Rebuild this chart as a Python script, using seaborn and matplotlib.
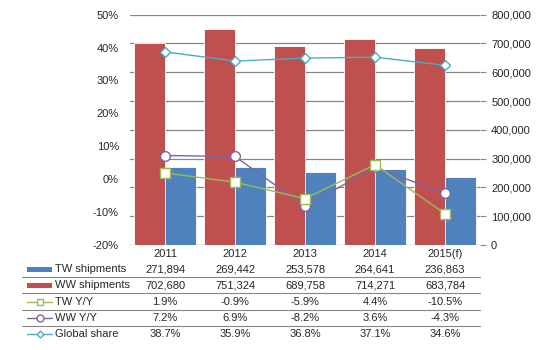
import numpy as np
import pandas as pd
import matplotlib
matplotlib.use('Agg')
import matplotlib.pyplot as plt
import matplotlib.transforms as mtrans
from matplotlib.lines import Line2D
from matplotlib.patches import Rectangle
import seaborn as sns

years = ['2011', '2012', '2013', '2014', '2015(f)']
tw_ship = [271894, 269442, 253578, 264641, 236863]
ww_ship = [702680, 751324, 689758, 714271, 683784]
tw_yoy = [1.9, -0.9, -5.9, 4.4, -10.5]
ww_yoy = [7.2, 6.9, -8.2, 3.6, -4.3]
share = [38.7, 35.9, 36.8, 37.1, 34.6]

RED = '#C0504D'
BLUE = '#4F81BD'
GREEN = '#9BBB59'
PURPLE = '#8064A2'
CYAN = '#4BACC6'
FS = 8

sns.set_style('white')
plt.rcParams['font.family'] = ['Liberation Sans', 'DejaVu Sans']
plt.rcParams['font.size'] = FS

df = pd.DataFrame({'year': years * 2,
                   'value': ww_ship + tw_ship,
                   'series': ['WW shipments'] * 5 + ['TW shipments'] * 5})

fig = plt.figure(figsize=(5.39, 3.5), dpi=100)
W, H = 539, 350
ax = fig.add_axes([130 / W, 1 - 245 / H, 350 / W, 230.3 / H])

# bars on the main axes (right-side scale)
sns.barplot(data=df, x='year', y='value', hue='series',
            hue_order=['WW shipments', 'TW shipments'],
            palette=[RED, BLUE], width=0.88, gap=0.0, saturation=1,
            edgecolor='white', linewidth=0.6, ax=ax, legend=False)
ax.set_ylim(0, 800000)
ax.set_xlim(-0.5, 4.5)
ax.set_xlabel('')
ax.set_ylabel('')

# percent lines on twin axes (left-side scale)
ax2 = ax.twinx()
x = np.arange(len(years))
ax2.plot(x, share, color=CYAN, lw=1, marker='D', ms=5.5, mfc='white', mec=CYAN, mew=1)
ax2.plot(x, ww_yoy, color=PURPLE, lw=1, marker='o', ms=7, mfc='white', mec=PURPLE, mew=1)
ax2.plot(x, tw_yoy, color=GREEN, lw=1, marker='s', ms=7, mfc='white', mec=GREEN, mew=1)
ax2.set_ylim(-20, 50)
ax2.set_yticks(np.arange(-20, 51, 10))
ax2.set_yticklabels([f'{v}%' for v in range(-20, 51, 10)])
ax2.yaxis.tick_left()
ax2.tick_params(axis='y', length=0, pad=8, labelsize=FS)
ax2.grid(False)
for s in ax2.spines.values():
    s.set_visible(False)

ax.yaxis.tick_right()
ax.set_yticks(np.arange(0, 800001, 100000))
ax.set_yticklabels([f'{v:,}' for v in range(0, 800001, 100000)])
ax.tick_params(axis='y', length=4, color='#868686', pad=4, labelsize=FS)
ax.tick_params(axis='x', length=0, pad=3, labelsize=FS)
ax.set_xticks(x)
ax.set_xticklabels(years)
ax.yaxis.grid(True, color='#868686', linewidth=0.9)
ax.set_axisbelow(True)
for s in ax.spines.values():
    s.set_visible(False)

# data table below the plot
tr = mtrans.blended_transform_factory(ax.transData, fig.transFigure)
rows = [
    ('TW shipments', [f'{v:,}' for v in tw_ship], 269),
    ('WW shipments', [f'{v:,}' for v in ww_ship], 285),
    ('TW Y/Y', [f'{v:.1f}%' for v in tw_yoy], 302),
    ('WW Y/Y', [f'{v:.1f}%' for v in ww_yoy], 318),
    ('Global share', [f'{v:.1f}%' for v in share], 334),
]
for label, vals, ypx in rows:
    yf = 1 - ypx / H
    fig.text(55 / W, yf, label, ha='left', va='center', fontsize=FS)
    for i, v in enumerate(vals):
        fig.text(i, yf, v, transform=tr, ha='center', va='center', fontsize=FS)

for ypx in [277, 293, 310, 326]:
    yf = 1 - ypx / H
    fig.add_artist(Line2D([22 / W, 480 / W], [yf, yf], color='#868686', lw=0.8))

# legend keys
fig.add_artist(Rectangle((27 / W, 1 - 271.5 / H), 25 / W, 5 / H, color=BLUE, lw=0))
fig.add_artist(Rectangle((27 / W, 1 - 287.5 / H), 25 / W, 5 / H, color=RED, lw=0))
for ypx, c, m, ms in [(302, GREEN, 's', 5), (318, PURPLE, 'o', 5), (334, CYAN, 'D', 3.5)]:
    yf = 1 - ypx / H
    fig.add_artist(Line2D([27 / W, 52 / W], [yf, yf], color=c, lw=1))
    fig.add_artist(Line2D([39.5 / W], [yf], color=c, marker=m, ms=ms, mfc='white', mec=c, mew=1))

fig.savefig('out.png', dpi=100)
